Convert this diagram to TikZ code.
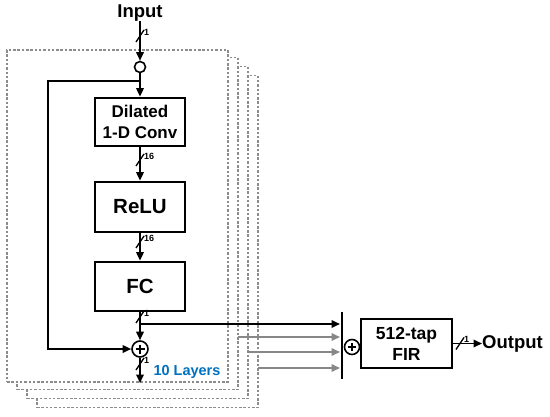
\documentclass[tikz,border=0pt]{standalone}
\usepackage{fontspec}
\setmainfont{Liberation Sans}
\usetikzlibrary{arrows.meta,calc}
\definecolor{layerblue}{RGB}{0,112,192}
\definecolor{framegray}{RGB}{140,140,140}
\definecolor{arrgray}{RGB}{135,135,135}
\newcommand\busmark[2]{%
  \draw[line width=1.3pt] ($(#1)+(-4,6)$) -- ($(#1)+(4,-6)$);
  \node[font=\bfseries\fontsize{9}{9}\selectfont,anchor=west,inner sep=0pt] at ($(#1)+(4,-4)$) {#2};}
\begin{document}
\begin{tikzpicture}[x=1pt,y=-1pt,
  layer/.style={draw=framegray,dash pattern=on 2.5pt off 1.8pt,line width=1.2pt,fill=white,
    minimum width=221pt,minimum height=332pt,inner sep=0pt},
  blk/.style={draw,line width=2.7pt,fill=white,minimum width=90pt,inner sep=0pt,align=center,
    font=\bfseries\fontsize{17}{21}\selectfont},
  bigblk/.style={blk,font=\bfseries\fontsize{20.5}{24}\selectfont},
  conn/.style={line width=1.7pt,-{Triangle[length=8.5pt,width=7.5pt]}},
  gconn/.style={line width=1.7pt,draw=arrgray,-{Triangle[length=8.5pt,width=7.5pt]},arrgray},
  wire/.style={line width=1.7pt},
  sumnode/.style={circle,draw,line width=1.6pt,minimum size=16pt,inner sep=0pt},
  title/.style={font=\bfseries\fontsize{18.5}{22}\selectfont,inner sep=0pt}
]
\useasboundingbox (0,0) rectangle (550,416);
% layer frames (back to front)
\node[layer] (L4) at (147.5,241.5) {};
\node[layer] (L3) at (137.5,232.5) {};
\node[layer] (L2) at (127.5,223.5) {};
\node[layer] (L1) at (117.5,216) {};

% top input
\node[title] (in) at (140,13) {Input};
\node[circle,draw,line width=1.6pt,minimum size=11pt,inner sep=0pt] (c0) at (140,67) {};
\draw[conn] (in.south) -- (c0.north);
\busmark{140,36}{1}

% blocks
\node[blk,minimum height=48pt] (dil) at (140,122) {Dilated\\1-D Conv};
\node[bigblk,minimum height=50pt] (relu) at (140,207) {ReLU};
\node[bigblk,minimum height=49pt] (fc) at (140,286.5) {FC};
\node[sumnode] (p1) at (140,349) {};
\draw[line width=1.5pt] ($(p1.center)+(-4.5,0)$) -- ($(p1.center)+(4.5,0)$)
  ($(p1.center)+(0,-4.5)$) -- ($(p1.center)+(0,4.5)$);

\coordinate (br1) at (140,81);
\coordinate (lp1) at (48,81);
\coordinate (lp2) at (48,349);
\coordinate (br2) at (140,324);
\coordinate (out1) at (140,383);

\draw[wire] (c0.south) -- (br1);
\draw[conn] (br1) -- (dil.north);
\draw[conn] (br1) -- (lp1) -- (lp2) -- (p1.west);
\draw[conn] (dil.south) -- (relu.north);
\busmark{140,160}{16}
\draw[conn] (relu.south) -- (fc.north);
\busmark{140,242}{16}
\draw[wire] (fc.south) -- (br2);
\busmark{140,317}{1}
\draw[conn] (br2) -- (p1.north);
\draw[conn] (p1.south) -- (out1);
\busmark{140,364}{1}
\node[font=\bfseries\fontsize{14.5}{16}\selectfont,text=layerblue,inner sep=0pt] (lab) at (187,372) {10 Layers};

% summation bar
\coordinate (bt) at (342,312);
\coordinate (bb) at (342,379);
\draw[line width=1.8pt] (bt) -- (bb);
\coordinate (a1) at (340,324);
\coordinate (g2s) at (238,337);
\coordinate (g2e) at (340,337);
\coordinate (g3s) at (248,352);
\coordinate (g3e) at (340,352);
\coordinate (g4s) at (258,368);
\coordinate (g4e) at (340,368);
\draw[conn] (br2) -- (a1);
\draw[gconn] (g2s) -- (g2e);
\draw[gconn] (g3s) -- (g3e);
\draw[gconn] (g4s) -- (g4e);

\node[sumnode,minimum size=15pt] (p2) at (352,347) {};
\draw[line width=1.5pt] ($(p2.center)+(-4.2,0)$) -- ($(p2.center)+(4.2,0)$)
  ($(p2.center)+(0,-4.2)$) -- ($(p2.center)+(0,4.2)$);

\node[blk,minimum width=91pt,minimum height=49pt,font=\bfseries\fontsize{17.5}{21}\selectfont] (fir) at (406.5,343.5) {512-tap\\FIR};
\node[title,anchor=west] (out) at (482,343.5) {Output};
\draw[conn] (fir.east) -- (out.west);
\busmark{460,343.5}{1}
\end{tikzpicture}
\end{document}
